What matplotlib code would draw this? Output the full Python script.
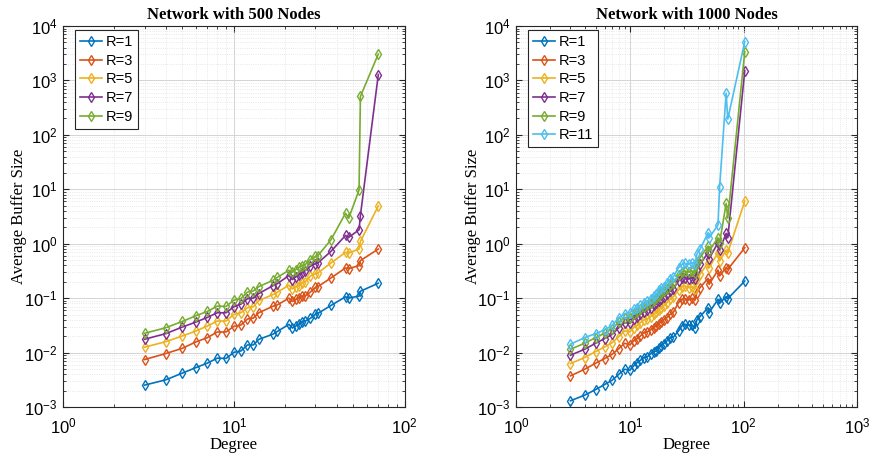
import matplotlib.pyplot as plt
from matplotlib.ticker import LogLocator, NullFormatter

plt.rcParams['font.family'] = ['Liberation Sans', 'DejaVu Sans']
plt.rcParams['mathtext.default'] = 'regular'

colors = ['#0072BD', '#D95319', '#EDB120', '#7E2F8E', '#77AC30', '#4DBEEE']

# 500 nodes
deg_500 = [3, 4, 5, 6, 7, 8, 9, 10, 11, 12, 13, 14, 17, 18, 21, 22, 23, 24, 25, 26,
           28, 30, 31, 37, 45, 47, 54, 55, 70]
r1_500 = [0.00252, 0.00316, 0.0042, 0.0053, 0.0064, 0.0079, 0.0078, 0.0101, 0.0107, 0.0138,
          0.0138, 0.0175, 0.0219, 0.0245, 0.033, 0.0282, 0.0308, 0.033, 0.0364, 0.0374,
          0.0425, 0.0503, 0.0524, 0.0734, 0.1057, 0.101, 0.109, 0.134, 0.188]
r3_500 = [0.00744, 0.0096, 0.012, 0.0157, 0.0188, 0.0239, 0.0239, 0.0303, 0.0321, 0.0413,
          0.043, 0.054, 0.0714, 0.0755, 0.1, 0.0869, 0.0946, 0.1, 0.110, 0.109,
          0.129, 0.157, 0.163, 0.235, 0.359, 0.349, 0.396, 0.489, 0.80]
r5_500 = [0.01253, 0.0159, 0.0202, 0.0249, 0.0308, 0.038, 0.038, 0.0503, 0.0539, 0.0666,
          0.0694, 0.0906, 0.1167, 0.1288, 0.173, 0.148, 0.161, 0.170, 0.191, 0.196,
          0.253, 0.282, 0.290, 0.443, 0.693, 0.675, 0.80, 1.10, 4.95]
r7_500 = [0.01754, 0.0223, 0.0295, 0.0364, 0.0443, 0.0539, 0.0539, 0.0694, 0.0776, 0.0972,
          0.1, 0.1217, 0.1705, 0.1855, 0.260, 0.2195, 0.2455, 0.267, 0.2905, 0.316,
          0.385, 0.430, 0.443, 0.724, 1.42, 1.31, 1.80, 3.30, 1282]
r9_500 = [0.0226, 0.0286, 0.0374, 0.0475, 0.057, 0.0714, 0.0705, 0.0919, 0.0986, 0.1288,
          0.136, 0.163, 0.2133, 0.242, 0.325, 0.299, 0.334, 0.369, 0.396, 0.407,
          0.509, 0.586, 0.603, 1.18, 3.64, 2.95, 9.7, 508, 3063]

# 1000 nodes
deg_1000 = [3, 4, 5, 6, 7, 8, 9, 10, 10.8, 11.6, 12.4, 13.3, 14.2, 15.2, 16.2, 17.1, 17.9,
            18.7, 19.8, 21.2, 22.6, 24.2, 26.8, 28.6, 30.6, 32.8, 35.5, 37.5, 38.8, 41.4,
            48.8, 49.8, 59.6, 61.6, 70.3, 72.7, 102.6]
r1_1000 = [0.00130, 0.00165, 0.00209, 0.00259, 0.00311, 0.00400, 0.00494, 0.00474, 0.00569,
           0.00656, 0.00723, 0.00810, 0.00832, 0.00946, 0.01028, 0.01073, 0.01202, 0.01325,
           0.01462, 0.01637, 0.01884, 0.01938, 0.02500, 0.03085, 0.03311, 0.03175, 0.03175,
           0.02793, 0.03973, 0.04577, 0.06692, 0.05420, 0.09514, 0.08035, 0.1066, 0.09785,
           0.2063]
r3_1000 = [0.00373, 0.00494, 0.00637, 0.00776, 0.00932, 0.01184, 0.01483, 0.01382, 0.01637,
           0.01806, 0.02022, 0.02328, 0.02395, 0.02607, 0.02877, 0.03085, 0.03311, 0.03653,
           0.03973, 0.04383, 0.05050, 0.05572, 0.08260, 0.09514, 0.09785, 0.09250, 0.09928,
           0.09250, 0.1262, 0.1559, 0.2310, 0.1793, 0.3286, 0.2550, 0.3630, 0.3380, 0.8446]
r5_1000 = [0.00628, 0.00810, 0.01042, 0.01270, 0.01525, 0.01966, 0.02500, 0.02395, 0.02877,
           0.03175, 0.03549, 0.03973, 0.04088, 0.04577, 0.05050, 0.05572, 0.05980, 0.06601,
           0.07180, 0.08260, 0.09514, 0.1066, 0.1412, 0.1626, 0.1672, 0.1559, 0.1626,
           0.1494, 0.2215, 0.2736, 0.4478, 0.3630, 0.6834, 0.4808, 0.7655, 0.6834, 6.07]
r7_1000 = [0.00894, 0.01151, 0.01483, 0.01806, 0.02168, 0.02877, 0.03549, 0.03451, 0.04088,
           0.04577, 0.05050, 0.05650, 0.05980, 0.06601, 0.07388, 0.08035, 0.08866, 0.09785,
           0.1066, 0.1175, 0.1353, 0.1494, 0.2063, 0.2377, 0.2377, 0.2278, 0.2377, 0.2215,
           0.3286, 0.4178, 0.6834, 0.5309, 1.043, 0.7655, 1.548, 1.288, 1520]
r9_1000 = [0.01151, 0.01483, 0.01884, 0.02265, 0.02755, 0.03653, 0.04383, 0.04383, 0.05050,
           0.05572, 0.06237, 0.06983, 0.07388, 0.08260, 0.09250, 0.1007, 0.1096, 0.1226,
           0.1334, 0.1494, 0.1719, 0.1923, 0.2622, 0.3019, 0.3150, 0.3019, 0.3150, 0.2938,
           0.4178, 0.5536, 0.9060, 0.7335, 1.29, 1.04, 5.5, 2.95, 3395]
r11_1000 = [0.01422, 0.01884, 0.02232, 0.02607, 0.03175, 0.04383, 0.05196, 0.05420, 0.06237,
            0.06692, 0.07388, 0.08260, 0.08866, 0.09785, 0.1096, 0.1175, 0.1412, 0.1559,
            0.1626, 0.1923, 0.2215, 0.2479, 0.3630, 0.4178, 0.4356, 0.4178, 0.4478, 0.4178,
            0.6374, 0.7870, 1.592, 1.288, 2.2, 10.9, 585, 195, 5190]

panels = [
    ('Network with 500 Nodes', deg_500, [r1_500, r3_500, r5_500, r7_500, r9_500],
     ['R=1', 'R=3', 'R=5', 'R=7', 'R=9'], 100),
    ('Network with 1000 Nodes', deg_1000,
     [r1_1000, r3_1000, r5_1000, r7_1000, r9_1000, r11_1000],
     ['R=1', 'R=3', 'R=5', 'R=7', 'R=9', 'R=11'], 1000),
]

fig = plt.figure(figsize=(8.72, 4.59), dpi=100)
positions = [[0.0722, 0.1133, 0.392, 0.830], [0.592, 0.1133, 0.391, 0.830]]

for pos, (title, x, series, labels, xmax) in zip(positions, panels):
    ax = fig.add_axes(pos)
    for i, (y, lab) in enumerate(zip(series, labels)):
        ax.plot(x, y, '-d', color=colors[i], lw=1.2, ms=4.8, mfc='none', mew=1.0, label=lab)
    ax.set_xscale('log')
    ax.set_yscale('log')
    ax.set_xlim(1, xmax)
    ax.set_ylim(1e-3, 1e4)
    ax.xaxis.set_major_locator(LogLocator(base=10, numticks=10))
    ax.yaxis.set_major_locator(LogLocator(base=10, numticks=10))
    ax.xaxis.set_minor_locator(LogLocator(base=10, subs=range(2, 10), numticks=20))
    ax.yaxis.set_minor_locator(LogLocator(base=10, subs=range(2, 10), numticks=20))
    ax.xaxis.set_minor_formatter(NullFormatter())
    ax.yaxis.set_minor_formatter(NullFormatter())
    ax.grid(True, which='major', color='#d4d4d4', lw=0.7, ls='-')
    ax.grid(True, which='minor', color='#e2e2e2', lw=0.6, ls=':')
    ax.set_axisbelow(True)
    ax.tick_params(which='both', direction='in', top=True, right=True, labelsize=12,
                   color='#262626')
    ax.tick_params(which='major', length=4)
    ax.tick_params(which='minor', length=2)
    ax.tick_params(axis='x', which='major', pad=7)
    ax.tick_params(axis='y', which='major', pad=4)
    for sp in ax.spines.values():
        sp.set_color('#262626')
        sp.set_linewidth(0.8)
    ax.set_title(title, fontfamily='Liberation Serif', fontweight='bold', fontsize=12, pad=5)
    ax.set_xlabel('Degree', fontfamily='Liberation Serif', fontsize=12)
    ax.set_ylabel('Average Buffer Size', fontfamily='Liberation Serif', fontsize=12)
    ax.xaxis.set_label_coords(0.5, -0.1)
    ax.xaxis.label.set_va('center')
    ax.yaxis.set_label_coords(-0.128, 0.5)
    ax.yaxis.label.set_va('center')
    leg = ax.legend(loc='upper left', bbox_to_anchor=(0.035, 0.99), borderaxespad=0,
                    fontsize=10.5, frameon=True, fancybox=False,
                    edgecolor='#262626', framealpha=1, handlelength=1.5,
                    handletextpad=0.25, labelspacing=0.32, borderpad=0.35)
    leg.get_frame().set_linewidth(0.8)

fig.savefig('out.png', dpi=100)
